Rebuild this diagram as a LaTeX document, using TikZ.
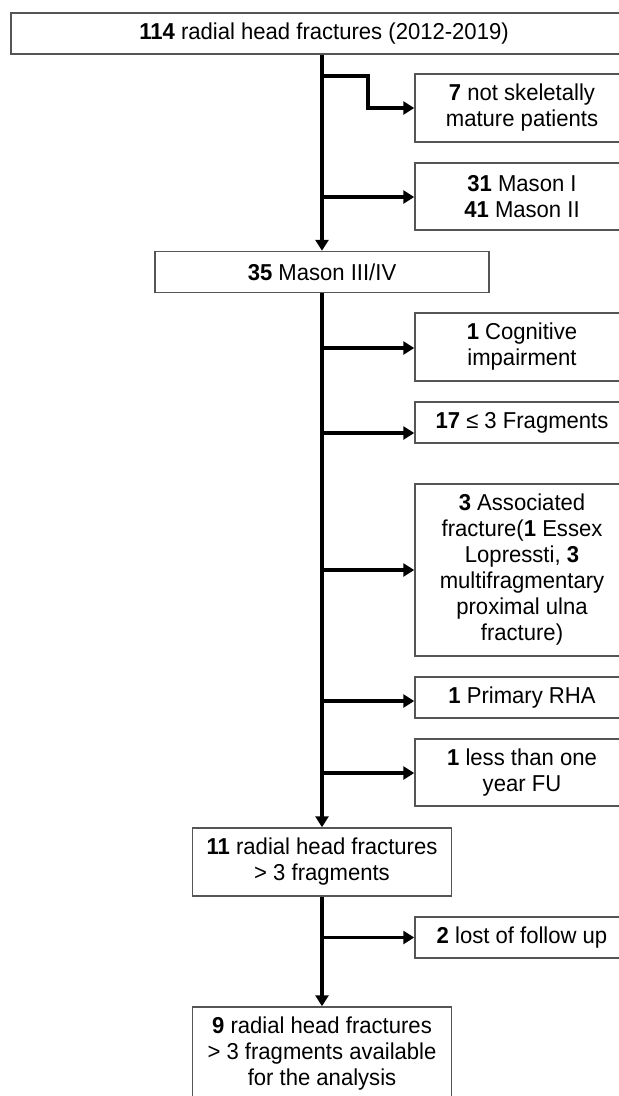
\documentclass[tikz,border=0pt]{standalone}
\usepackage{fontspec}
\setmainfont{Liberation Sans}[FakeStretch=0.96]
\usetikzlibrary{arrows.meta}
\definecolor{boxgray}{RGB}{85,85,85}
\tikzset{
  box/.style={draw=boxgray, line width=1.5pt, fill=white, inner sep=0pt, align=center,
    font=\fontsize{23}{26}\selectfont},
  rbox/.style={box, minimum width=214pt},
  conn/.style={line width=3.2pt, draw=black},
  arr/.style={conn, -{Triangle[length=11pt,width=13pt]}},
}
\begin{document}
\begin{tikzpicture}[x=1pt,y=-1pt]
\useasboundingbox (0,0) rectangle (619,1096);
% main boxes
\node[box, minimum width=626pt, minimum height=41pt] (top) at (324,33.5) {\textbf{114} radial head fractures (2012-2019)};
\node[box, minimum width=334pt, minimum height=41pt] (mason) at (322,272) {\textbf{35} Mason III/IV};
\node[box, minimum width=259pt, minimum height=68pt] (b11) at (322,862) {\textbf{11} radial head fractures\\> 3 fragments};
\node[box, minimum width=259pt, minimum height=94pt] (b9) at (322,1054) {\textbf{9} radial head fractures\\> 3 fragments available\\for the analysis};
% right boxes
\node[rbox, minimum height=68pt] (b7) at (522,108) {\textbf{7} not skeletally\\mature patients};
\node[rbox, minimum height=67pt] (b31) at (522,196.5) {\textbf{31} Mason I\\\textbf{41} Mason II};
\node[rbox, minimum height=68pt] (cog) at (522,347) {\textbf{1} Cognitive\\impairment};
\node[rbox, minimum height=41pt] (b17) at (522,422.5) {\textbf{17} ≤ 3 Fragments};
\node[rbox, minimum height=172pt] (assoc) at (522,570) {\textbf{3} Associated\\fracture(\textbf{1} Essex\\Lopressti, \textbf{3}\\multifragmentary\\proximal ulna\\fracture)};
\node[rbox, minimum height=41pt] (rha) at (522,697.5) {\textbf{1} Primary RHA};
\node[rbox, minimum height=67pt] (fu) at (522,772.5) {\textbf{1} less than one\\year FU};
\node[rbox, minimum height=41pt] (lost) at (522,937.5) {\textbf{2} lost of follow up};
% trunk
\draw[arr] (top.south -| mason.north) -- (mason.north);
\draw[arr] (mason.south) -- (b11.north);
\draw[arr] (b11.south) -- (b9.north);
% junctions
\coordinate (j7) at (322,76);
\coordinate (e1) at (368,76);
\coordinate (j31) at (322,197);
\coordinate (jcog) at (322,348);
\coordinate (j17) at (322,433);
\coordinate (jas) at (322,570);
\coordinate (jrha) at (322,701);
\coordinate (jfu) at (322,773);
\coordinate (jlost) at (322,937.5);
\draw[arr] (j7) -- (e1) |- (b7.west);
\draw[arr] (j31) -- (j31 -| b31.west);
\draw[arr] (jcog) -- (jcog -| cog.west);
\draw[arr] (j17) -- (j17 -| b17.west);
\draw[arr] (jas) -- (jas -| assoc.west);
\draw[arr] (jrha) -- (jrha -| rha.west);
\draw[arr] (jfu) -- (jfu -| fu.west);
\draw[arr] (jlost) -- (jlost -| lost.west);
\end{tikzpicture}
\end{document}
